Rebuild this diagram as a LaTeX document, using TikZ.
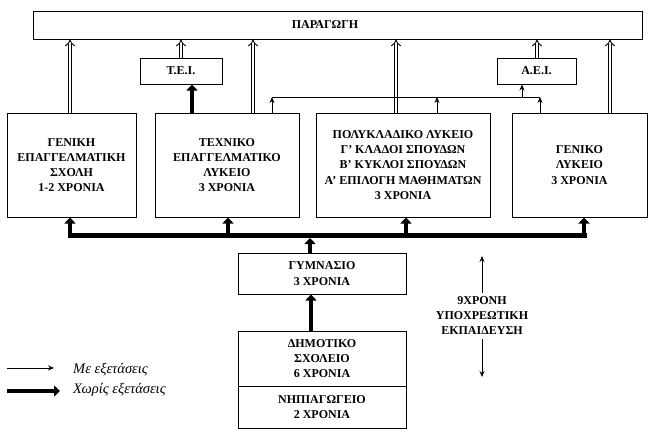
\documentclass[tikz,border=0pt]{standalone}
\usepackage{fontspec}
\setmainfont{Liberation Serif}
\usetikzlibrary{arrows.meta}
\begin{document}
\begin{tikzpicture}[x=1pt,y=-1pt,
  box/.style={draw, line width=1pt, inner sep=0pt, align=center, font=\fontsize{12}{15.2}\selectfont\bfseries},
  txt/.style={inner sep=0pt, align=center, font=\fontsize{12}{15}\selectfont\bfseries},
  legt/.style={inner sep=0pt, anchor=west, font=\fontsize{14.5}{16}\selectfont\itshape},
  dbl/.style={double, double distance=2.6pt, line width=0.9pt, -{Implies}},
  thk/.style={line width=4.5pt, -{Triangle[width=11pt,length=6pt]}},
  thn/.style={line width=0.8pt, -{Stealth[width=5pt,length=6pt]}},
]
\useasboundingbox (0,0) rectangle (648,429);
% boxes
\node[box, minimum width=609pt, minimum height=28pt] (prod) at (337.5,25) {};
\node[txt] (prodt) at (325,25) {ΠΑΡΑΓΩΓΗ};
\node[box, minimum width=82pt, minimum height=26pt] (tei) at (181,71) {Τ.Ε.Ι.};
\node[box, minimum width=79pt, minimum height=26pt] (aei) at (536.5,71) {Α.Ε.Ι.};
\node[box, minimum width=129pt, minimum height=104pt] (ges) at (71.5,165) {ΓΕΝΙΚΗ\\ΕΠΑΓΓΕΛΜΑΤΙΚΗ\\ΣΧΟΛΗ\\1-2 ΧΡΟΝΙΑ};
\node[box, minimum width=144pt, minimum height=104pt] (tel) at (227,165) {ΤΕΧΝΙΚΟ\\ΕΠΑΓΓΕΛΜΑΤΙΚΟ\\ΛΥΚΕΙΟ\\3 ΧΡΟΝΙΑ};
\node[box, minimum width=174pt, minimum height=104pt] (pol) at (403,165) {ΠΟΛΥΚΛΑΔΙΚΟ ΛΥΚΕΙΟ\\Γ' ΚΛΑΔΟΙ ΣΠΟΥΔΩΝ\\Β' ΚΥΚΛΟΙ ΣΠΟΥΔΩΝ\\Α' ΕΠΙΛΟΓΗ ΜΑΘΗΜΑΤΩΝ\\3 ΧΡΟΝΙΑ};
\node[box, minimum width=135pt, minimum height=104pt] (gl) at (579.5,165) {ΓΕΝΙΚΟ\\ΛΥΚΕΙΟ\\3 ΧΡΟΝΙΑ};
\node[box, minimum width=168pt, minimum height=41pt] (gym) at (322,273.5) {ΓΥΜΝΑΣΙΟ\\3 ΧΡΟΝΙΑ};
\node[box, minimum width=168pt, minimum height=55pt] (dim) at (322,358.5) {ΔΗΜΟΤΙΚΟ\\ΣΧΟΛΕΙΟ\\6 ΧΡΟΝΙΑ};
\node[box, minimum width=168pt, minimum height=42pt] (nip) at (322,407) {ΝΗΠΙΑΓΩΓΕΙΟ\\2 ΧΡΟΝΙΑ};
\node[txt, inner sep=4pt] (nine) at (482,316) {9ΧΡΟΝΗ\\ΥΠΟΧΡΕΩΤΙΚΗ\\ΕΚΠΑΙΔΕΥΣΗ};
% double arrows to production
\foreach \n/\xx in {ges/70, tei/181, tel/253, pol/396, aei/537, gl/610}
  \draw[dbl] (\xx,0 |- \n.north) -- (\xx,0 |- prod.south);
% thick arrow to TEI
\draw[thk] (192,0 |- tel.north) -- (192,0 |- tei.south);
% thin line to AEI
\coordinate (l1) at (272,97);
\coordinate (l2) at (437,97);
\coordinate (l3) at (522,97);
\coordinate (l4) at (540,97);
\draw[line width=0.8pt] (l1) -- (l4);
\draw[thn] (tel.north -| l1) -- (l1);
\draw[thn] (pol.north -| l2) -- (l2);
\draw[thn] (gl.north -| l4) -- (l4);
\draw[thn] (l3) -- (aei.south -| l3);
% thick bus
\coordinate (b1) at (70,235);
\coordinate (b2) at (228,235);
\coordinate (b3) at (406,235);
\coordinate (b4) at (584,235);
\coordinate (g1) at (310,238);
\draw[line width=5pt, line cap=rect] (b1) -- (b4);
\draw[thk] (b1) -- (ges.south -| b1);
\draw[thk] (b2) -- (tel.south -| b2);
\draw[thk] (b3) -- (pol.south -| b3);
\draw[thk] (b4) -- (gl.south -| b4);
\draw[thk] (gym.north -| g1) -- (g1);
\draw[thk] (311,0 |- dim.north) -- (311,0 |- gym.south);
% nine-year arrows
\coordinate (n1) at (482,256);
\coordinate (n2) at (482,377);
\draw[thn] (nine.north) -- (n1);
\draw[thn] (nine.south) -- (n2);
% legend
\coordinate (la1) at (7,368);
\coordinate (la2) at (54,368);
\coordinate (lb1) at (7,391);
\coordinate (lb2) at (60,391);
\draw[thn] (la1) -- (la2);
\draw[thk] (lb1) -- (lb2);
\node[legt] (leg1) at (73,370) {Με εξετάσεις};
\node[legt] (leg2) at (73,390) {Χωρίς εξετάσεις};
\end{tikzpicture}
\end{document}
